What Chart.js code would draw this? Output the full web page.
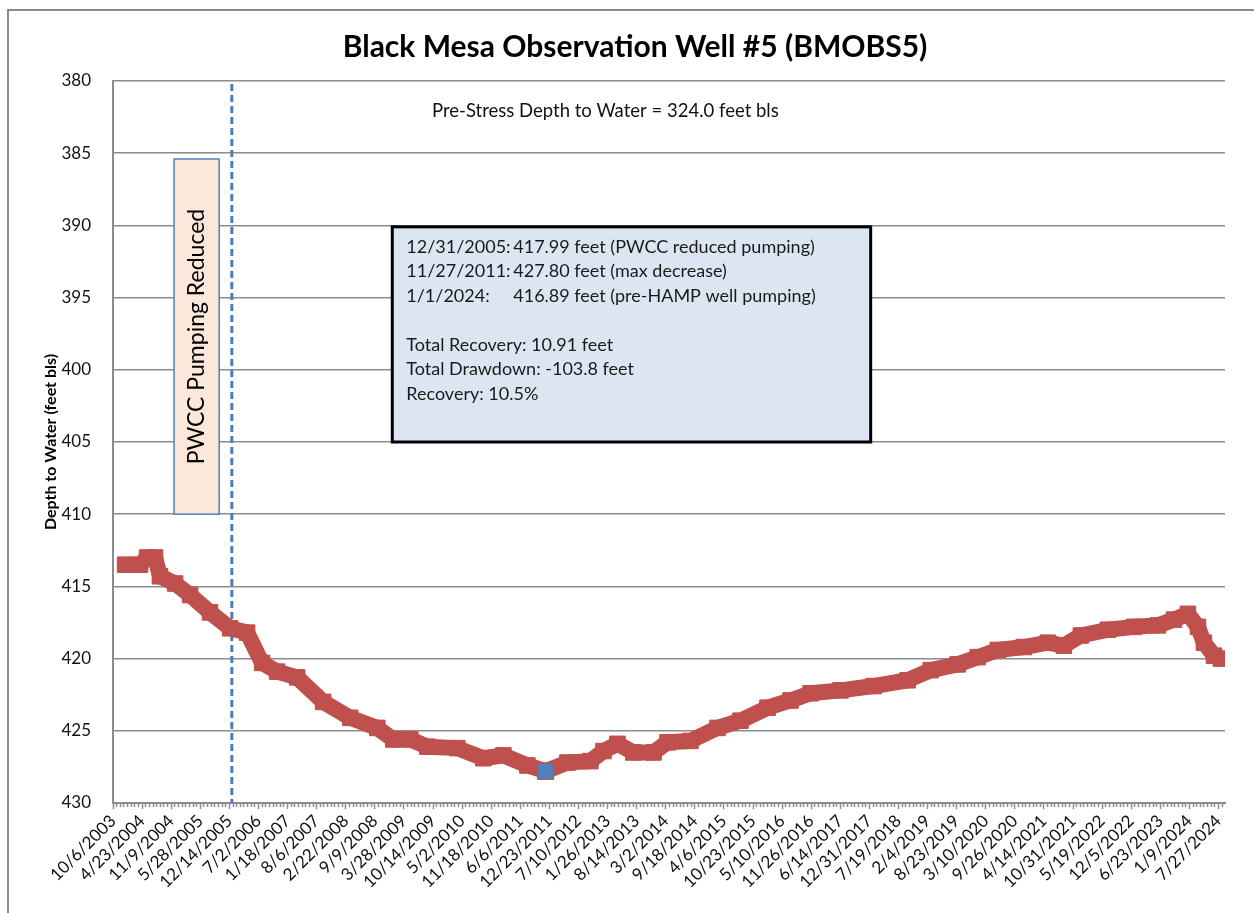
<!DOCTYPE html>
<html lang="en">
<head>
<meta charset="UTF-8">
<title>Black Mesa Observation Well #5 (BMOBS5)</title>
<script src="https://cdn.jsdelivr.net/npm/chart.js"></script>
<style>
  body { margin: 0; background: #fff; }
  canvas { display: block; }
</style>
</head>
<body>
<canvas id="myChart" width="1254" height="913"></canvas>
<script>
// days counted from 10/6/2003 (first date label on the axis)
var obsDays = [83, 186, 234, 289, 323, 427, 530, 667, 805, 922, 1025, 1128, 1266, 1445, 1631, 1817, 1927, 2044, 2161, 2367,
    2546, 2684, 2849, 2974, 3124, 3282, 3372, 3468, 3578, 3716, 3812, 3970, 4156, 4314, 4500, 4658, 4796, 5002, 5229, 5463,
    5622, 5807, 5945, 6083, 6262, 6427, 6537, 6654, 6840, 7019, 7184, 7294, 7390, 7459, 7500, 7569, 7617];
var depthFt = [413.5, 413.5, 413.0, 413.0, 414.3, 414.8, 415.6, 416.8, 417.9, 418.2, 420.3, 420.9, 421.3, 423.0, 424.1, 424.8, 425.6, 425.6, 426.1, 426.2,
    426.9, 426.7, 427.4, 427.8, 427.2, 427.1, 426.4, 425.9, 426.5, 426.5, 425.8, 425.7, 424.8, 424.3, 423.4, 422.9, 422.4, 422.2, 421.9, 421.5,
    420.8, 420.4, 419.9, 419.4, 419.2, 418.9, 419.1, 418.4, 418.0, 417.8, 417.7, 417.3, 416.9, 417.8, 418.9, 419.8, 420.0];

// max decrease point 11/27/2011
var maxDay = [2974];
var maxDepth = [427.80];

// PWCC reduced pumping 12/31/2005
var pumpDay = 817;

var xTickLabels = ['10/6/2003', '4/23/2004', '11/9/2004', '5/28/2005', '12/14/2005', '7/2/2006', '1/18/2007', '8/6/2007',
    '2/22/2008', '9/9/2008', '3/28/2009', '10/14/2009', '5/2/2010', '11/18/2010', '6/6/2011', '12/23/2011', '7/10/2012',
    '1/26/2013', '8/14/2013', '3/2/2014', '9/18/2014', '4/6/2015', '10/23/2015', '5/10/2016', '11/26/2016', '6/14/2017',
    '12/31/2017', '7/19/2018', '2/4/2019', '8/23/2019', '3/10/2020', '9/26/2020', '4/14/2021', '10/31/2021', '5/19/2022',
    '12/5/2022', '6/23/2023', '1/9/2024', '7/27/2024'];
var labelStep = 200;
var minorStep = 25;

var noteDates = ['12/31/2005:', '11/27/2011:', '1/1/2024:'];
var noteValues = ['417.99 feet (PWCC reduced pumping)', '427.80 feet (max decrease)', '416.89 feet (pre-HAMP well pumping)'];
var noteTotals = ['Total Recovery: 10.91 feet', 'Total Drawdown: -103.8 feet', 'Recovery: 10.5%'];

var fonte = 'Lato, "Open Sans", sans-serif';

function pontos(xs, ys) {
    var out = [];
    for (var i = 0; i < xs.length; i++) out.push({ x: xs[i], y: ys[i] });
    return out;
}

// texts and boxes drawn on top of the chart
var extras = {
    id: 'extras',
    beforeDraw(chart) {
        var ctx = chart.ctx;
        ctx.save();
        ctx.fillStyle = '#fff';
        ctx.fillRect(0, 0, chart.width, chart.height);
        ctx.strokeStyle = '#8c8c8c';
        ctx.lineWidth = 2;
        ctx.strokeRect(8, 10, chart.width + 20, chart.height + 20);
        ctx.restore();
    },
    afterDatasetsDraw(chart) {
        var ctx = chart.ctx;
        var x = chart.scales.x, y = chart.scales.y;
        ctx.save();

        // title
        ctx.fillStyle = '#000';
        ctx.textAlign = 'center';
        ctx.textBaseline = 'middle';
        ctx.font = 'bold 30px ' + fonte;
        ctx.fillText('Black Mesa Observation Well #5 (BMOBS5)', 635, 47);

        ctx.font = '18.5px ' + fonte;
        ctx.fillStyle = '#111';
        ctx.fillText('Pre-Stress Depth to Water = 324.0 feet bls', x.getPixelForValue(3385), y.getPixelForValue(382.1));

        // vertical box
        var bx1 = x.getPixelForValue(420), bx2 = x.getPixelForValue(730);
        var by1 = y.getPixelForValue(385.4), by2 = y.getPixelForValue(410);
        ctx.fillStyle = '#FCE8DA';
        ctx.fillRect(bx1, by1, bx2 - bx1, by2 - by1);
        ctx.strokeStyle = '#4F81BD';
        ctx.lineWidth = 1.5;
        ctx.strokeRect(bx1, by1, bx2 - bx1, by2 - by1);
        ctx.translate((bx1 + bx2) / 2, (by1 + by2) / 2);
        ctx.rotate(-Math.PI / 2);
        ctx.fillStyle = '#000';
        ctx.font = '23px ' + fonte;
        ctx.fillText('PWCC Pumping Reduced', 0, 0);
        ctx.setTransform(1, 0, 0, 1, 0, 0);

        // note box
        var nx1 = x.getPixelForValue(1920), nx2 = x.getPixelForValue(5209);
        var ny1 = y.getPixelForValue(390.1), ny2 = y.getPixelForValue(405.0);
        ctx.fillStyle = '#DCE6F2';
        ctx.fillRect(nx1, ny1, nx2 - nx1, ny2 - ny1);
        ctx.strokeStyle = '#000';
        ctx.lineWidth = 3;
        ctx.strokeRect(nx1, ny1, nx2 - nx1, ny2 - ny1);
        ctx.fillStyle = '#1a1a1a';
        ctx.font = '18px ' + fonte;
        ctx.textAlign = 'left';
        for (var i = 0; i < noteDates.length; i++) {
            ctx.fillText(noteDates[i], nx1 + 14, ny1 + 20 + i * 24.5);
            ctx.fillText(noteValues[i], nx1 + 121, ny1 + 20 + i * 24.5);
        }
        for (var j = 0; j < noteTotals.length; j++) {
            ctx.fillText(noteTotals[j], nx1 + 14, ny1 + 118 + j * 24.5);
        }
        ctx.restore();
    }
};

const ctx = document.getElementById('myChart');

new Chart(ctx, {
    type: 'line',
    data: {
        datasets: [{
            label: 'max decrease',
            data: pontos(maxDay, maxDepth),
            order: 0,
            showLine: false,
            pointStyle: 'rect',
            pointRadius: 11.5,
            pointBackgroundColor: '#4F81BD',
            pointBorderColor: '#C0504D',
            pointBorderWidth: 1
        }, {
            label: 'Depth to Water',
            data: pontos(obsDays, depthFt),
            order: 1,
            borderColor: '#C0504D',
            borderWidth: 16,
            borderJoinStyle: 'bevel',
            pointStyle: 'rect',
            pointRadius: 11,
            pointBackgroundColor: '#C0504D',
            pointBorderColor: '#C0504D',
            pointBorderWidth: 1
        }, {
            label: 'PWCC reduced pumping',
            data: [{ x: pumpDay, y: 380.2 }, { x: pumpDay, y: 430 }],
            order: 2,
            borderColor: '#4A7EBB',
            borderWidth: 3,
            borderDash: [7, 4],
            pointRadius: 0
        }]
    },
    options: {
        responsive: false,
        animation: false,
        layout: { padding: { top: 81, right: 29, bottom: 0, left: 0 } },
        plugins: {
            legend: { display: false },
            tooltip: { enabled: false },
            title: { display: false }
        },
        scales: {
            x: {
                type: 'linear',
                min: 0,
                max: 7645,
                afterFit(scale) { scale.height = 110; },
                grid: {
                    drawOnChartArea: false,
                    drawTicks: true,
                    tickLength: 6,
                    tickColor: '#8c8c8c',
                    tickWidth: 1.5,
                    tickBorderDash: function (c) {
                        return c.tick && c.tick.value % labelStep === 0 ? [] : [3, 20];
                    }
                },
                border: { color: '#8c8c8c', width: 2 },
                ticks: {
                    stepSize: minorStep,
                    includeBounds: false,
                    autoSkip: false,
                    minRotation: 45,
                    maxRotation: 45,
                    padding: 2,
                    color: '#111',
                    font: { family: fonte, size: 17 },
                    callback: function (v) {
                        if (v % labelStep !== 0) return '';
                        return xTickLabels[v / labelStep] || '';
                    }
                }
            },
            y: {
                min: 380,
                max: 430,
                reverse: true,
                afterFit(scale) { scale.width = 113; },
                grid: {
                    color: '#8c8c8c',
                    lineWidth: 1.5,
                    drawTicks: true,
                    tickLength: 16,
                    tickColor: 'rgba(0,0,0,0)'
                },
                border: { color: '#8c8c8c', width: 2 },
                ticks: {
                    stepSize: 5,
                    padding: 6,
                    color: '#111',
                    font: { family: fonte, size: 17 }
                },
                title: {
                    display: true,
                    text: 'Depth to Water (feet bls)',
                    color: '#000',
                    padding: { top: 41, bottom: 0 },
                    font: { family: fonte, size: 16, weight: 'bold' }
                }
            }
        }
    },
    plugins: [extras]
});
</script>
</body>
</html>
